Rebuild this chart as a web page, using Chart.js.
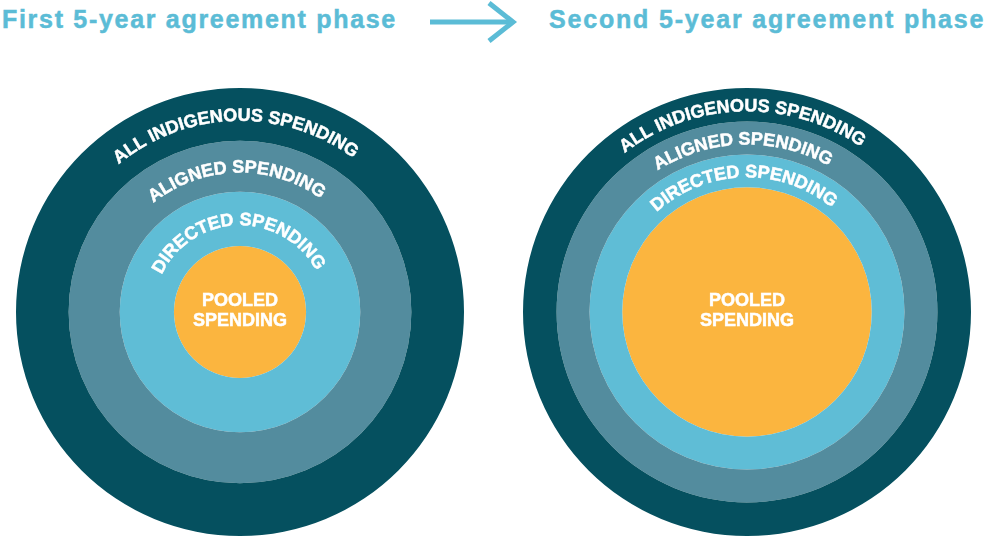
<!DOCTYPE html>
<html><head><meta charset="utf-8">
<script src="https://cdn.jsdelivr.net/npm/chart.js@4/dist/chart.umd.min.js"></script>
<style>
html,body{margin:0;padding:0;background:#fff;width:986px;height:536px;overflow:hidden;position:relative;font-family:'Liberation Sans',Arial,sans-serif;}
.title{position:absolute;top:7px;font-weight:bold;font-size:25px;line-height:25px;color:#5bbcd6;letter-spacing:1.7px;white-space:nowrap;-webkit-text-stroke:0.5px #5bbcd6;}
.box{position:absolute;top:88px;width:448px;height:448px;}
</style></head><body>
<div class="title" id="t1" style="left:2px"></div>
<div class="title" id="t2" style="left:549px;letter-spacing:1.82px"></div>
<svg style="position:absolute;left:0;top:0" width="986" height="60"><line x1="430" y1="22" x2="511" y2="22" stroke="#5bbcd6" stroke-width="5"/><polyline points="489,3 513,22 489,41" fill="none" stroke="#5bbcd6" stroke-width="5"/></svg>
<div class="box" style="left:16px"><canvas id="c1" width="448" height="448"></canvas></div>
<div class="box" style="left:523px"><canvas id="c2" width="448" height="448"></canvas></div>
<script>
const phaseTitles = ['First 5-year agreement phase', 'Second 5-year agreement phase'];
const ringNames = ['ALL INDIGENOUS SPENDING', 'ALIGNED SPENDING', 'DIRECTED SPENDING', 'POOLED SPENDING'];
// relative circle sizes (outer circle = 100)
const firstPhaseSize = [100, 76.5, 53.7, 29.5];
const secondPhaseSize = [100, 85, 70.3, 55.7];
const ringColors = ['#05505f', '#538c9e', '#5fbdd6', '#fbb53f'];

document.getElementById('t1').textContent = phaseTitles[0];
document.getElementById('t2').textContent = phaseTitles[1];

const FONT = 'bold 18px "Liberation Sans", Arial, sans-serif';
const LETTER = 0;
const SHIFT = -1.5 * Math.PI / 180;

function drawChar(ctx, c, px, py) {
  ctx.fillText(c, px, py);
  ctx.strokeText(c, px, py);
}

const arcLabels = {
  id: 'arcLabels',
  afterDatasetsDraw(chart) {
    const ctx = chart.ctx;
    chart.data.datasets.forEach((ds, i) => {
      const arc = chart.getDatasetMeta(i).data[0];
      const x = arc.x, y = arc.y, ir = arc.innerRadius, or = arc.outerRadius;
      ctx.save();
      ctx.fillStyle = '#ffffff';
      ctx.strokeStyle = '#ffffff';
      ctx.lineWidth = 0.5;
      ctx.font = FONT;
      if (ir < 1) {
        const parts = ds.label.split(' ');
        ctx.textAlign = 'center';
        ctx.textBaseline = 'alphabetic';
        drawChar(ctx, parts[0], x, y - 6);
        drawChar(ctx, parts[1], x, y + 14);
      } else {
        const cap = 13;
        const r = (ir + or) / 2 - cap / 2;
        const chars = ds.label.split('');
        const widths = chars.map(c => ctx.measureText(c).width);
        const total = widths.reduce((a, b) => a + b, 0) + LETTER * (chars.length - 1);
        let a = -Math.PI / 2 + SHIFT - (total / r) / 2;
        ctx.textAlign = 'center';
        ctx.textBaseline = 'alphabetic';
        chars.forEach((c, k) => {
          const ang = a + (widths[k] / 2) / r;
          ctx.save();
          ctx.translate(x + r * Math.cos(ang), y + r * Math.sin(ang));
          ctx.rotate(ang + Math.PI / 2);
          drawChar(ctx, c, 0, 0);
          ctx.restore();
          a += (widths[k] + LETTER) / r;
        });
      }
      ctx.restore();
    });
  }
};

function makeChart(id, sizes) {
  return new Chart(document.getElementById(id), {
    type: 'pie',
    data: {
      labels: ['share'],
      datasets: ringNames.map((name, i) => ({
        label: name,
        data: [sizes[i]],
        backgroundColor: ringColors[i],
        borderWidth: 0,
        hoverOffset: 0,
        weight: sizes[i] - (i + 1 < sizes.length ? sizes[i + 1] : 0)
      }))
    },
    options: {
      responsive: false,
      animation: false,
      devicePixelRatio: 1,
      layout: { padding: 0 },
      plugins: { legend: { display: false }, tooltip: { enabled: false }, title: { display: false } },
      events: []
    },
    plugins: [arcLabels]
  });
}
makeChart('c1', firstPhaseSize);
makeChart('c2', secondPhaseSize);
</script>
</body></html>
